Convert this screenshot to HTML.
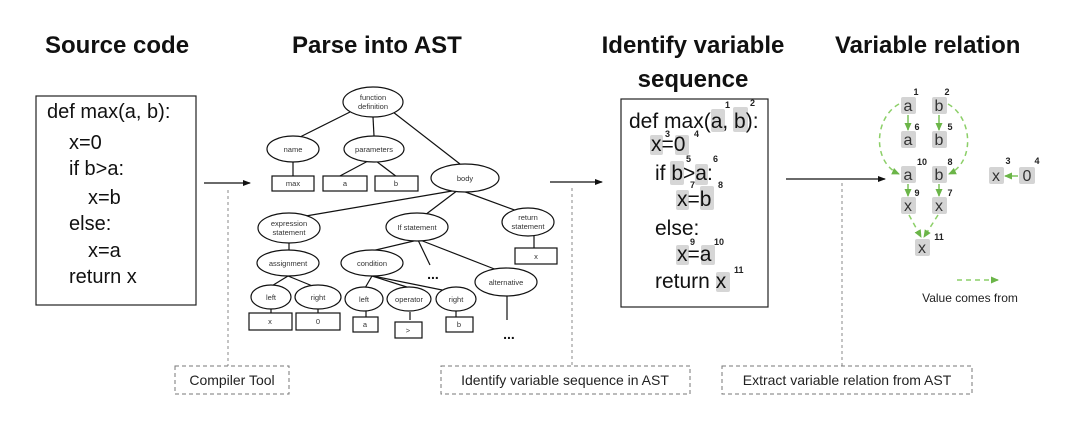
<!DOCTYPE html>
<html><head><meta charset="utf-8"><style>
html,body{margin:0;padding:0;background:#fff;}
svg{display:block;font-family:"Liberation Sans",Arial,sans-serif;}
.t{font-size:7.5px;fill:#333;text-anchor:middle;}
.e{fill:#fff;stroke:#111;stroke-width:1.2;}
.l{stroke:#111;stroke-width:1.2;fill:none;}
.c{font-size:20px;fill:#111;}
.d{font-size:21px;fill:#111;}
.h{fill:#d6d6d6;}
.s{font-size:9px;font-weight:bold;fill:#222;}
.g{fill:#d4d4d4;}
.gt{font-size:16px;fill:#333;text-anchor:middle;}
.gs{font-size:9px;font-weight:bold;fill:#222;text-anchor:middle;}
.ga{stroke:#7cc35a;stroke-width:1.5;fill:none;}
.gd{stroke:#8ccf68;stroke-width:1.5;fill:none;stroke-dasharray:5,4;}
.db{fill:none;stroke:#777;stroke-width:1;stroke-dasharray:4,3;}
.dl{stroke:#888;stroke-width:1;stroke-dasharray:3,3;}
.lab{font-size:14px;fill:#222;}
</style></head><body>
<svg width="1080" height="423" viewBox="0 0 1080 423" xmlns="http://www.w3.org/2000/svg">
<defs>
<marker id="ab" markerWidth="8" markerHeight="8" refX="7" refY="4" orient="auto" markerUnits="userSpaceOnUse"><path d="M0,1 L8,4 L0,7 z" fill="#111"/></marker>
<marker id="ag" markerWidth="8" markerHeight="8" refX="7" refY="4" orient="auto" markerUnits="userSpaceOnUse"><path d="M0,0.5 L8,4 L0,7.5 z" fill="#6bb548"/></marker>
</defs>
<!-- Titles -->
<g font-weight="bold" font-size="24" fill="#111">
<text x="45" y="53">Source code</text>
<text x="292" y="53">Parse into AST</text>
<text x="693" y="53" text-anchor="middle">Identify variable</text>
<text x="693" y="87" text-anchor="middle">sequence</text>
<text x="835" y="53">Variable relation</text>
</g>
<!-- Source code -->
<rect x="36" y="96" width="160" height="209" fill="none" stroke="#222" stroke-width="1.2"/>
<g class="c">
<text x="47" y="118">def max(a, b):</text>
<text x="69" y="149">x=0</text>
<text x="69" y="175">if b&gt;a:</text>
<text x="88" y="204">x=b</text>
<text x="69" y="230">else:</text>
<text x="88" y="257">x=a</text>
<text x="69" y="283">return x</text>
</g>
<!-- arrows -->
<line x1="204" y1="183" x2="250" y2="183" class="l" marker-end="url(#ab)"/>
<line x1="550" y1="182" x2="602" y2="182" class="l" marker-end="url(#ab)"/>
<line x1="786" y1="179" x2="885" y2="179" class="l" marker-end="url(#ab)"/>
<!-- AST edges -->
<g class="l">
<line x1="350" y1="112" x2="300" y2="137"/>
<line x1="373" y1="117" x2="374" y2="136"/>
<line x1="393" y1="112" x2="460" y2="164"/>
<line x1="293" y1="162" x2="293" y2="176"/>
<line x1="368" y1="161" x2="338" y2="177"/>
<line x1="376" y1="161" x2="397" y2="177"/>
<line x1="458" y1="190" x2="300" y2="217"/>
<line x1="458" y1="190" x2="425" y2="215"/>
<line x1="460" y1="190" x2="520" y2="212"/>
<line x1="534" y1="235" x2="534" y2="248"/>
<line x1="289" y1="242" x2="289" y2="252"/>
<line x1="418" y1="240" x2="367" y2="252"/>
<line x1="418" y1="240" x2="430" y2="265"/>
<line x1="420" y1="240" x2="497" y2="270"/>
<line x1="288" y1="276" x2="270" y2="287"/>
<line x1="288" y1="276" x2="315" y2="287"/>
<line x1="372" y1="276" x2="365" y2="288"/>
<line x1="372" y1="276" x2="410" y2="288"/>
<line x1="373" y1="276" x2="452" y2="292"/>
<line x1="271" y1="309" x2="271" y2="313"/>
<line x1="318" y1="309" x2="318" y2="313"/>
<line x1="366" y1="311" x2="366" y2="317"/>
<line x1="410" y1="312" x2="410" y2="320"/>
<line x1="456" y1="311" x2="456" y2="317"/>
<line x1="507" y1="296" x2="507" y2="320"/>
</g>
<!-- AST nodes -->
<ellipse class="e" cx="373" cy="102" rx="30" ry="15"/><text class="t" x="373" y="100">function</text><text class="t" x="373" y="109">definition</text>
<ellipse class="e" cx="293" cy="149" rx="26" ry="13"/><text class="t" x="293" y="152">name</text>
<ellipse class="e" cx="374" cy="149" rx="30" ry="13"/><text class="t" x="374" y="152">parameters</text>
<rect class="e" x="272" y="176" width="42" height="15"/><text class="t" x="293" y="186">max</text>
<rect class="e" x="323" y="176" width="44" height="15"/><text class="t" x="345" y="186">a</text>
<rect class="e" x="375" y="176" width="43" height="15"/><text class="t" x="396" y="186">b</text>
<ellipse class="e" cx="465" cy="178" rx="34" ry="14"/><text class="t" x="465" y="181">body</text>
<ellipse class="e" cx="289" cy="228" rx="31" ry="15"/><text class="t" x="289" y="226">expression</text><text class="t" x="289" y="235">statement</text>
<ellipse class="e" cx="417" cy="227" rx="31" ry="14"/><text class="t" x="417" y="230">If statement</text>
<ellipse class="e" cx="528" cy="222" rx="26" ry="14"/><text class="t" x="528" y="220">return</text><text class="t" x="528" y="229">statement</text>
<rect class="e" x="515" y="248" width="42" height="16"/><text class="t" x="536" y="259">x</text>
<ellipse class="e" cx="288" cy="263" rx="31" ry="13"/><text class="t" x="288" y="266">assignment</text>
<ellipse class="e" cx="372" cy="263" rx="31" ry="13"/><text class="t" x="372" y="266">condition</text>
<text x="433" y="279" font-size="14" font-weight="bold" text-anchor="middle" fill="#111">...</text>
<ellipse class="e" cx="506" cy="282" rx="31" ry="14"/><text class="t" x="506" y="285">alternative</text>
<ellipse class="e" cx="271" cy="297" rx="20" ry="12"/><text class="t" x="271" y="300">left</text>
<ellipse class="e" cx="318" cy="297" rx="23" ry="12"/><text class="t" x="318" y="300">right</text>
<rect class="e" x="249" y="313" width="43" height="17"/><text class="t" x="270" y="324">x</text>
<rect class="e" x="296" y="313" width="44" height="17"/><text class="t" x="318" y="324">0</text>
<ellipse class="e" cx="364" cy="299" rx="19" ry="12"/><text class="t" x="364" y="302">left</text>
<ellipse class="e" cx="409" cy="299" rx="22" ry="12"/><text class="t" x="409" y="302">operator</text>
<ellipse class="e" cx="456" cy="299" rx="20" ry="12"/><text class="t" x="456" y="302">right</text>
<rect class="e" x="353" y="317" width="25" height="15"/><text class="t" x="365" y="327">a</text>
<rect class="e" x="395" y="322" width="27" height="16"/><text class="t" x="408" y="333">&gt;</text>
<rect class="e" x="446" y="317" width="27" height="15"/><text class="t" x="459" y="327">b</text>
<text x="509" y="339" font-size="14" font-weight="bold" text-anchor="middle" fill="#111">...</text>
<!-- Identify box -->
<rect x="621" y="99" width="147" height="208" fill="none" stroke="#222" stroke-width="1.2"/>
<g>
<rect class="h" x="711" y="109" width="14" height="23" rx="2"/>
<rect class="h" x="733" y="107" width="15" height="25" rx="2"/>
<rect class="h" x="650" y="135" width="13" height="20" rx="2"/>
<rect class="h" x="675" y="135" width="14" height="20" rx="2"/>
<rect class="h" x="670" y="161" width="14" height="24" rx="2"/>
<rect class="h" x="695" y="164" width="13" height="21" rx="2"/>
<rect class="h" x="676" y="190" width="13" height="20" rx="2"/>
<rect class="h" x="700" y="186" width="14" height="24" rx="2"/>
<rect class="h" x="676" y="245" width="13" height="20" rx="2"/>
<rect class="h" x="701" y="245" width="14" height="20" rx="2"/>
<rect class="h" x="716" y="272" width="14" height="20" rx="2"/>
</g>
<g class="d">
<text x="629" y="128">def max(a, b):</text>
<text x="651" y="151">x=0</text>
<text x="655" y="180">if b&gt;a:</text>
<text x="677" y="206">x=b</text>
<text x="655" y="235">else:</text>
<text x="677" y="261">x=a</text>
<text x="655" y="288">return x</text>
</g>
<g class="s">
<text x="725" y="108">1</text><text x="750" y="106">2</text>
<text x="665" y="137">3</text><text x="694" y="137">4</text>
<text x="686" y="162">5</text><text x="713" y="162">6</text>
<text x="690" y="188">7</text><text x="718" y="188">8</text>
<text x="690" y="245">9</text><text x="714" y="245">10</text>
<text x="734" y="273">11</text>
</g>
<!-- Variable relation graph -->
<g>
<rect class="g" x="901" y="97" width="15" height="17" rx="2"/><text class="gt" x="908" y="111">a</text>
<rect class="g" x="932" y="97" width="15" height="17" rx="2"/><text class="gt" x="939" y="111">b</text>
<rect class="g" x="901" y="131" width="15" height="17" rx="2"/><text class="gt" x="908" y="145">a</text>
<rect class="g" x="932" y="131" width="15" height="17" rx="2"/><text class="gt" x="939" y="145">b</text>
<rect class="g" x="901" y="166" width="15" height="17" rx="2"/><text class="gt" x="908" y="180">a</text>
<rect class="g" x="932" y="166" width="15" height="17" rx="2"/><text class="gt" x="939" y="180">b</text>
<rect class="g" x="901" y="197" width="15" height="17" rx="2"/><text class="gt" x="908" y="211">x</text>
<rect class="g" x="932" y="197" width="15" height="17" rx="2"/><text class="gt" x="939" y="211">x</text>
<rect class="g" x="915" y="239" width="15" height="17" rx="2"/><text class="gt" x="922" y="253">x</text>
<rect class="g" x="989" y="167" width="15" height="17" rx="2"/><text class="gt" x="996" y="181">x</text>
<rect class="g" x="1019" y="167" width="16" height="17" rx="2"/><text class="gt" x="1027" y="181">0</text>
</g>
<g class="gs">
<text x="916" y="95">1</text><text x="947" y="95">2</text>
<text x="917" y="130">6</text><text x="950" y="130">5</text>
<text x="922" y="165">10</text><text x="950" y="165">8</text>
<text x="917" y="196">9</text><text x="950" y="196">7</text>
<text x="939" y="240">11</text>
<text x="1008" y="164">3</text><text x="1037" y="164">4</text>
</g>
<g>
<line class="ga" x1="908" y1="115" x2="908" y2="130" marker-end="url(#ag)"/>
<line class="ga" x1="939" y1="115" x2="939" y2="130" marker-end="url(#ag)"/>
<line class="ga" x1="908" y1="184" x2="908" y2="196" marker-end="url(#ag)"/>
<line class="ga" x1="939" y1="184" x2="939" y2="196" marker-end="url(#ag)"/>
<line class="ga" x1="1018" y1="176" x2="1005" y2="176" marker-end="url(#ag)"/>
<path class="gd" d="M899,104 C874,118 872,162 899,174" marker-end="url(#ag)"/>
<path class="gd" d="M948,104 C973,118 975,162 949,174" marker-end="url(#ag)"/>
<line class="gd" x1="909" y1="215" x2="921" y2="237" marker-end="url(#ag)"/>
<line class="gd" x1="938" y1="215" x2="924" y2="237" marker-end="url(#ag)"/>
<line class="gd" x1="957" y1="280" x2="998" y2="280" marker-end="url(#ag)"/>
</g>
<text x="970" y="302" font-size="12" fill="#222" text-anchor="middle">Value comes from</text>
<!-- dashed leaders and labels -->
<line class="dl" x1="228" y1="190" x2="228" y2="366"/>
<line class="dl" x1="572" y1="188" x2="572" y2="366"/>
<line class="dl" x1="842" y1="183" x2="842" y2="366"/>
<rect class="db" x="175" y="366" width="114" height="28"/>
<rect class="db" x="441" y="366" width="249" height="28"/>
<rect class="db" x="722" y="366" width="250" height="28"/>
<text class="lab" x="232" y="385" text-anchor="middle">Compiler Tool</text>
<text class="lab" x="565" y="385" text-anchor="middle">Identify variable sequence in AST</text>
<text class="lab" x="847" y="385" text-anchor="middle">Extract variable relation from AST</text>
</svg>
</body></html>
